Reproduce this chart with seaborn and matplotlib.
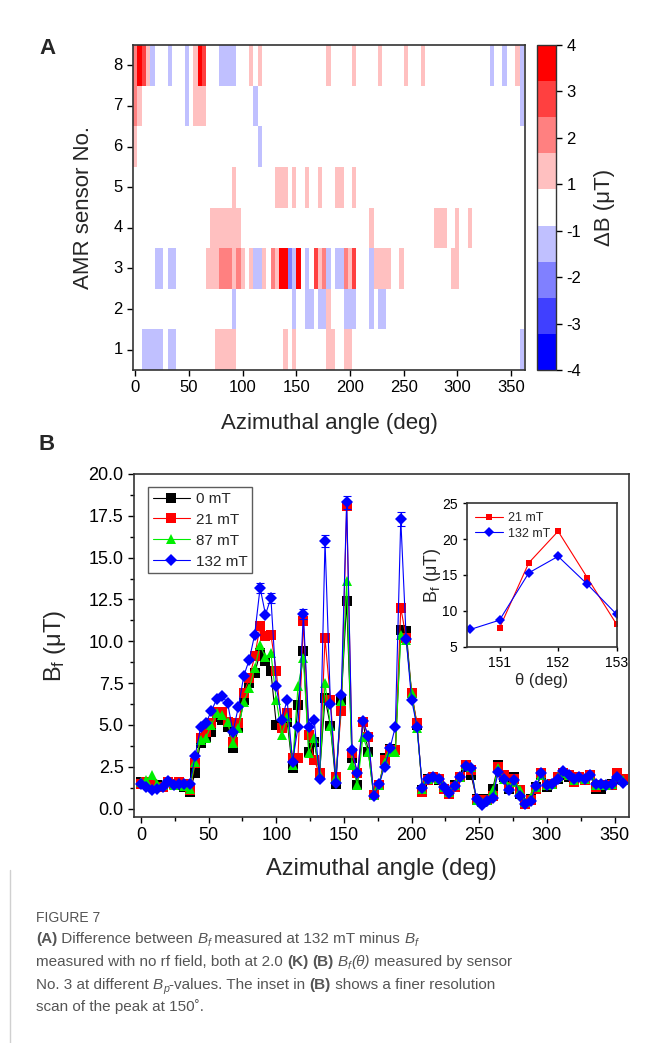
import numpy as np
import pandas as pd
import matplotlib
matplotlib.use("Agg")
import matplotlib.pyplot as plt
from matplotlib.colors import ListedColormap
from matplotlib.ticker import AutoMinorLocator
from matplotlib.lines import Line2D
import seaborn as sns

# ---------------- panel A: Delta B (uT) per sensor, keyed by angle (deg) ----------------
angles_a = list(range(0, 361, 4))
sensor_8 = {0: 2, 4: 4, 8: 3, 12: 1, 16: -1, 32: -1, 48: -1, 56: 1, 60: 4, 64: 3,
            80: -1, 84: -1, 88: -1, 92: -1, 108: 1, 116: 1, 180: 1, 204: 1, 228: 1,
            252: 1, 268: 1, 332: -1, 344: -1, 356: 1, 360: -1}
sensor_7 = {0: 2, 4: 1, 48: -1, 56: 1, 60: 1, 64: 1, 112: -1, 360: -1}
sensor_6 = {0: 1, 116: -1}
sensor_5 = {92: 1, 132: 1, 136: 1, 140: 1, 148: 1, 160: 1, 172: 1, 188: 1, 192: 1, 204: 1}
sensor_4 = {72: 1, 76: 1, 80: 1, 84: 1, 88: 1, 92: 1, 96: 1, 220: 1, 280: 1, 284: 1,
            288: 1, 300: 1, 312: 1}
sensor_3 = {20: -1, 24: -1, 32: -1, 36: -1, 68: 1, 72: 1, 76: 1, 80: 2, 84: 2, 88: 2,
            92: 1, 96: 2, 100: 1, 108: 1, 112: -1, 116: -1, 120: 1, 128: 2, 132: 1,
            136: 4, 140: 4, 144: -2, 148: -1, 152: 4, 160: -1, 168: 3, 172: 1, 176: 2,
            180: -1, 188: -1, 192: -1, 196: 2, 200: 1, 204: 3, 220: -1, 224: 1, 228: 1,
            232: 1, 236: 1, 248: 1, 296: 1, 300: 1}
sensor_2 = {92: -1, 148: -1, 160: -1, 164: -1, 172: -1, 176: -1, 180: 1, 196: -1,
            200: -1, 204: -1, 220: -1, 228: -1, 232: -1}
sensor_1 = {8: -1, 12: -1, 16: -1, 20: -1, 24: -1, 32: -1, 36: -1, 76: 1, 80: 1, 84: 1,
            88: 1, 92: 1, 140: 1, 148: 1, 180: 1, 184: 1, 196: 1, 200: 1, 360: -1}
sensor_ids = [8, 7, 6, 5, 4, 3, 2, 1]
level_colors = ["#0000ff", "#4040ff", "#8080ff", "#c0c0ff", "#ffffff",
                "#ffc0c0", "#ff8080", "#ff4040", "#ff0000"]
cbar_labels = ["-4", "-3", "-2", "-1", "1", "2", "3", "4"]

# ---------------- panel B: B_f (uT) measured by sensor 3 ----------------
theta = list(range(0, 360, 4))
bf_0 = [1.6, 1.45, 1.4, 1.4, 1.3, 1.6, 1.5, 1.4, 1.3, 1.0,
        2.15, 3.95, 4.3, 4.6, 5.45, 5.3, 4.9, 3.6, 4.8, 6.5,
        7.5, 8.1, 9.3, 8.8, 8.2, 5.0, 4.8, 5.2, 2.4, 6.2,
        9.4, 3.4, 4.0, 2.1, 6.6, 4.95, 1.5, 6.5, 12.4, 3.0,
        1.4, 5.2, 3.4, 0.8, 1.4, 3.0, 3.55, 3.5, 10.65, 10.6,
        6.9, 5.0, 1.1, 1.8, 1.9, 1.7, 1.2, 1.0, 1.4, 1.9,
        2.5, 2.0, 0.6, 0.5, 0.6, 1.2, 2.6, 1.9, 1.2, 1.9,
        0.9, 0.3, 0.6, 1.3, 2.0, 1.3, 1.5, 1.8, 2.0, 1.9,
        1.6, 1.9, 1.8, 2.0, 1.2, 1.2, 1.4, 1.5, 1.8, 1.7]
bf_21 = [1.5, 1.6, 1.5, 1.3, 1.3, 1.6, 1.5, 1.6, 1.45, 1.1,
         2.7, 4.25, 4.6, 5.1, 5.8, 5.75, 5.2, 4.0, 5.1, 6.9,
         7.8, 9.1, 10.9, 10.3, 10.4, 8.2, 4.8, 5.7, 3.0, 3.0,
         11.2, 4.4, 2.9, 2.1, 10.2, 6.5, 1.9, 5.85, 18.1, 3.3,
         2.1, 5.2, 4.3, 0.8, 1.4, 2.9, 3.5, 3.5, 12.0, 10.2,
         6.9, 5.1, 1.0, 1.7, 1.9, 1.8, 1.2, 0.9, 1.3, 1.9,
         2.6, 2.3, 0.5, 0.4, 0.5, 0.75, 2.5, 2.0, 1.3, 1.8,
         1.1, 0.25, 0.5, 1.2, 2.1, 1.4, 1.5, 1.9, 2.1, 2.0,
         1.6, 1.9, 1.7, 2.0, 1.3, 1.4, 1.4, 1.4, 2.1, 1.8]
bf_87 = [1.6, 1.7, 2.0, 1.5, 1.4, 1.6, 1.4, 1.5, 1.35, 1.2,
         2.8, 4.1, 4.25, 5.0, 5.7, 5.6, 5.15, 3.95, 4.8, 6.4,
         7.2, 8.4, 9.75, 9.05, 9.3, 6.5, 4.4, 5.5, 2.6, 7.3,
         9.0, 3.3, 4.2, 2.0, 7.5, 4.95, 1.9, 6.45, 13.6, 2.6,
         1.4, 4.3, 3.4, 0.8, 1.4, 2.8, 3.4, 3.4, 10.35, 10.1,
         6.9, 4.8, 1.2, 1.8, 1.9, 1.8, 1.3, 1.0, 1.4, 1.9,
         2.6, 2.5, 0.5, 0.4, 0.5, 1.1, 2.4, 1.8, 1.3, 1.6,
         1.1, 0.4, 0.7, 1.3, 2.0, 1.4, 1.5, 1.9, 2.1, 2.0,
         1.7, 1.9, 1.8, 2.0, 1.4, 1.4, 1.4, 1.5, 1.9, 1.7]
bf_132 = [1.5, 1.3, 1.1, 1.15, 1.3, 1.65, 1.4, 1.5, 1.5, 1.45,
          3.15, 4.85, 5.1, 5.85, 6.55, 6.75, 6.3, 4.6, 6.1, 7.95,
          8.9, 10.4, 13.2, 11.6, 12.6, 7.3, 5.3, 6.5, 2.8, 4.85,
          11.65, 4.85, 5.3, 1.8, 16.0, 6.25, 1.55, 6.8, 18.3, 3.5,
          2.1, 5.25, 4.35, 0.77, 1.45, 2.5, 3.6, 4.9, 17.3, 10.15,
          6.5, 4.9, 1.25, 1.75, 1.9, 1.8, 1.3, 0.95, 1.35, 1.9,
          2.55, 2.4, 0.55, 0.2, 0.45, 0.65, 2.2, 1.75, 1.1, 1.7,
          0.75, 0.3, 0.45, 1.35, 2.1, 1.4, 1.45, 1.8, 2.25, 2.0,
          1.8, 1.9, 1.8, 2.0, 1.45, 1.45, 1.4, 1.5, 1.9, 1.55]
field_labels = ["0 mT", "21 mT", "87 mT", "132 mT"]
err_theta = [88, 96, 120, 136, 152, 192]
err_132 = [0.3, 0.3, 0.3, 0.35, 0.4, 0.4]

# ---------------- inset: finer scan of the 150 deg peak ----------------
theta_fine_21 = [151, 151.5, 152, 152.5, 153]
bf_fine_21 = [7.6, 16.7, 21.1, 14.6, 8.1]
theta_fine_132 = [150.5, 151, 151.5, 152, 152.5, 153]
bf_fine_132 = [7.4, 8.7, 15.3, 17.6, 13.7, 9.5]

W, H = 658, 1043
sns.set_style("ticks")
plt.rcParams["font.family"] = ["Liberation Sans", "DejaVu Sans"]
plt.rcParams["mathtext.fontset"] = "custom"
plt.rcParams["mathtext.rm"] = "Liberation Sans"
plt.rcParams["mathtext.it"] = "Liberation Sans:italic"
plt.rcParams["axes.edgecolor"] = "#333333"
plt.rcParams["axes.linewidth"] = 1.2

fig = plt.figure(figsize=(W / 100, H / 100), dpi=100)
fig.patch.set_facecolor("white")


def box(l, t, r, b):
    return [l / W, 1 - b / H, (r - l) / W, (b - t) / H]


# ---------------- panel A ----------------
axa = fig.add_axes(box(133, 45, 525, 370))
cax = fig.add_axes(box(537, 45, 556, 370))
rows = [sensor_8, sensor_7, sensor_6, sensor_5, sensor_4, sensor_3, sensor_2, sensor_1]
mat = pd.DataFrame([[r.get(a, 0) for a in angles_a] for r in rows],
                   index=sensor_ids, columns=angles_a)
sns.heatmap(mat, ax=axa, cmap=ListedColormap(level_colors), vmin=-4.5, vmax=4.5,
            cbar_ax=cax, xticklabels=False, yticklabels=True)
axa.set_xlim(-0.04, 91.26)
axa.set_ylim(8, 0)
xt = list(range(0, 351, 50))
axa.set_xticks([a / 4 + 0.5 for a in xt])
axa.set_xticklabels([str(a) for a in xt])
axa.set_yticks([i + 0.5 for i in range(8)])
axa.set_yticklabels([str(s) for s in sensor_ids], rotation=0)
for s in axa.spines.values():
    s.set_visible(True)
    s.set_color("#333333")
    s.set_linewidth(1.2)
axa.tick_params(direction="out", length=4, width=1, labelsize=12, colors="black")
axa.set_xlabel("Azimuthal angle (deg)", fontsize=16)
axa.set_ylabel("AMR sensor No.", fontsize=16)
axa.xaxis.set_label_coords(0.5, -0.132)
axa.yaxis.set_label_coords(-0.10, 0.5)

cb = axa.collections[0].colorbar
cb.set_ticks(np.linspace(-4.5, 4.5, 8))
cb.set_ticklabels(cbar_labels)
cb.outline.set_visible(True)
cb.outline.set_edgecolor("#333333")
cb.outline.set_linewidth(1)
cax.tick_params(direction="out", length=4, width=1, labelsize=12, colors="black")
cax.set_ylabel("ΔB (μT)", fontsize=16, rotation=90)
cax.yaxis.set_label_coords(3.0, 0.5)

fig.text(47 / W, 1 - 48 / H, "A", fontsize=16, fontweight="bold", ha="center", va="center")
fig.text(47 / W, 1 - 445 / H, "B", fontsize=16, fontweight="bold", ha="center", va="center")

# ---------------- panel B ----------------
axb = fig.add_axes(box(134, 474, 629, 817))
n = len(theta)
df_b = pd.DataFrame({
    "theta": theta * 4,
    "Bf": bf_0 + bf_21 + bf_87 + bf_132,
    "field": [lab for lab in field_labels for _ in range(n)],
})
pal = {"0 mT": "#000000", "21 mT": "#ff0000", "87 mT": "#00ee00", "132 mT": "#0000ff"}
mk = {"0 mT": "s", "21 mT": "s", "87 mT": "^", "132 mT": "D"}
sns.lineplot(data=df_b, x="theta", y="Bf", hue="field", style="field",
             hue_order=field_labels, style_order=field_labels, palette=pal,
             markers=mk, dashes=False, errorbar=None, sort=False, ax=axb,
             markersize=6.5, markeredgewidth=0, linewidth=0.8, legend=False)
err_y = [bf_132[theta.index(t)] for t in err_theta]
axb.errorbar(err_theta, err_y, yerr=err_132, fmt="none", ecolor="#0000ff",
             elinewidth=0.8, capsize=3, capthick=0.8)
axb.set_xlim(-5.2, 360.7)
axb.set_ylim(-0.5, 20.0)
axb.set_xticks(range(0, 351, 50))
axb.set_yticks(np.arange(0, 20.01, 2.5))
axb.set_yticklabels([f"{v:.1f}" for v in np.arange(0, 20.01, 2.5)])
axb.xaxis.set_minor_locator(AutoMinorLocator(2))
axb.yaxis.set_minor_locator(AutoMinorLocator(2))
axb.tick_params(which="both", direction="out", width=1, labelsize=13, colors="black")
axb.tick_params(which="major", length=4)
axb.tick_params(which="minor", length=3)
axb.set_xlabel("Azimuthal angle (deg)", fontsize=17)
axb.set_ylabel("B$_\\mathrm{f}$ (μT)", fontsize=17)
axb.xaxis.set_label_coords(0.5, -0.12)
axb.yaxis.set_label_coords(-0.133, 0.5)

handles = [Line2D([], [], color=pal[f], marker=mk[f], markersize=6.5,
                  markeredgewidth=0, linewidth=0.8) for f in field_labels]
leg = axb.legend(handles, field_labels, loc="upper left", bbox_to_anchor=(0.029, 0.961),
                 borderaxespad=0, fontsize=11, frameon=True, fancybox=False,
                 handlelength=2.4, handletextpad=0.4, labelspacing=0.45, borderpad=0.3)
leg.get_frame().set_edgecolor("#333333")
leg.get_frame().set_linewidth(1)

# ---------------- inset ----------------
axi = fig.add_axes(box(466.7, 503.3, 616.7, 646.7))
df_i = pd.DataFrame({
    "theta": theta_fine_21 + theta_fine_132,
    "Bf": bf_fine_21 + bf_fine_132,
    "field": ["21 mT"] * len(theta_fine_21) + ["132 mT"] * len(theta_fine_132),
})
sns.lineplot(data=df_i, x="theta", y="Bf", hue="field", style="field",
             hue_order=["21 mT", "132 mT"], palette=pal,
             markers={"21 mT": "s", "132 mT": "D"}, dashes=False, errorbar=None,
             ax=axi, markersize=5, markeredgewidth=0, linewidth=0.8, legend=False)
axi.set_xlim(150.44, 153)
axi.set_ylim(5, 25)
axi.set_xticks([151, 152, 153])
axi.set_yticks([5, 10, 15, 20, 25])
axi.tick_params(direction="out", length=3, width=1, labelsize=10, colors="black")
axi.set_xlabel("θ (deg)", fontsize=12)
axi.set_ylabel("B$_\\mathrm{f}$ (μT)", fontsize=13)
axi.xaxis.set_label_coords(0.5, -0.185)
axi.yaxis.set_label_coords(-0.158, 0.5)
ih = [Line2D([], [], color=pal[f], marker=m, markersize=5, markeredgewidth=0,
             linewidth=0.8) for f, m in (("21 mT", "s"), ("132 mT", "D"))]
axi.legend(ih, ["21 mT", "132 mT"], loc="upper left", frameon=False, fontsize=9,
           handlelength=2.2, handletextpad=0.4, labelspacing=0.3,
           borderaxespad=0.3)

# ---------------- caption ----------------
cap_font = ["Liberation Sans", "DejaVu Sans"]
cap_color = "#555555"
renderer = fig.canvas.get_renderer()


def runs_line(x, y, runs, size=11):
    for txt, style in runs:
        kw = dict(fontsize=size, color=cap_color, family=cap_font, va="baseline")
        yy = y
        if style == "b":
            kw["fontweight"] = "bold"
        elif style == "i":
            kw["fontstyle"] = "italic"
        elif style == "sub":
            kw["fontstyle"] = "italic"
            kw["fontsize"] = size * 0.7
            yy = y + 3
        t = fig.text(x / W, 1 - yy / H, txt, **kw)
        x += t.get_window_extent(renderer).width


runs_line(36, 922, [("FIGURE 7", "")], size=10)
runs_line(36, 943, [("(A)", "b"), (" Difference between ", ""), ("B", "i"), ("f", "sub"),
                    (" measured at 132 mT minus ", ""), ("B", "i"), ("f", "sub")])
runs_line(36, 966, [("measured with no rf field, both at 2.0 ", ""), ("(K)", "b"), (" ", ""),
                    ("(B)", "b"), (" ", ""), ("B", "i"), ("f", "sub"), ("(θ)", "i"),
                    (" measured by sensor", "")])
runs_line(36, 989, [("No. 3 at different ", ""), ("B", "i"), ("p", "sub"),
                    ("-values. The inset in ", ""), ("(B)", "b"),
                    (" shows a finer resolution", "")])
runs_line(36, 1011, [("scan of the peak at 150˚.", "")])

fig.add_artist(Line2D([10 / W, 10 / W], [0, 1 - 870 / H], color="#d0d0d0", linewidth=1))

fig.savefig("out.png", dpi=100, facecolor="white")
